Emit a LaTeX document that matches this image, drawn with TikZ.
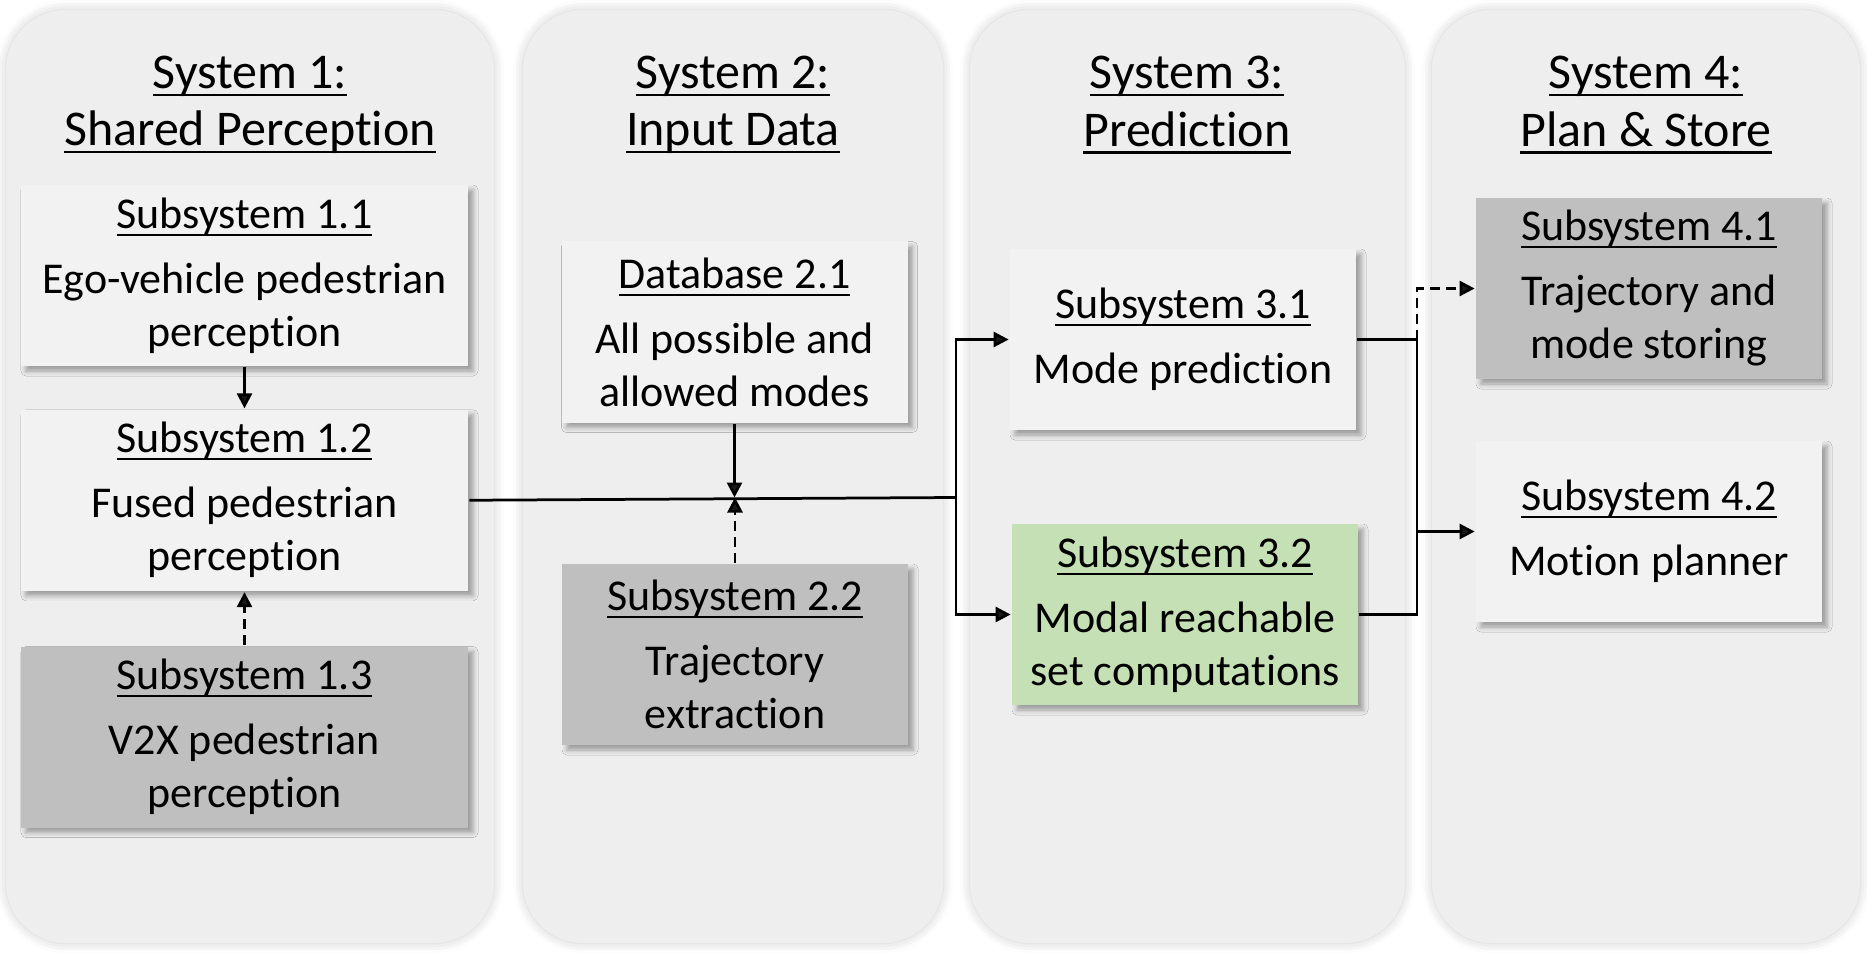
\documentclass[tikz,border=0pt]{standalone}
\usepackage{fontspec}
\setmainfont{Carlito}[Ligatures=NoCommon]
\usetikzlibrary{positioning,arrows.meta,shadows.blur}
\definecolor{panel}{HTML}{EEEEEE}
\definecolor{lbox}{HTML}{F2F2F2}
\definecolor{dbox}{HTML}{BFBFBF}
\definecolor{gbox}{HTML}{C5E0B4}
\newcommand\uln[2][0.8pt]{\setbox0\hbox{#2}\rlap{\rule[-3pt]{\wd0}{#1}}\box0}

\begin{document}
\begin{tikzpicture}[x=0.4pt,y=-0.4pt,font=\fontsize{17.6}{21.2}\selectfont,
  >={Triangle[length=6pt,width=6pt]},line width=1.1pt,
  sys/.style={fill=panel,rounded corners=24pt,blur shadow={shadow xshift=0pt,shadow yshift=0pt,shadow blur radius=4pt,shadow opacity=20}},
  ttl/.style={font=\fontsize{20}{22.9}\selectfont,align=center,inner sep=0pt},
  blk/.style={minimum width=138.4pt,minimum height=72.4pt,align=center,inner sep=0pt,
    blur shadow={shadow xshift=2pt,shadow yshift=-2pt,shadow blur radius=2pt,shadow opacity=35}},
  lt/.style={blk,fill=lbox},
  dk/.style={blk,fill=dbox},
  gr/.style={blk,fill=gbox},
  wide/.style={minimum width=178.8pt},
  dsh/.style={dash pattern=on 4pt off 2.4pt}]
  \useasboundingbox (0,0) rectangle (1867,959);
  % system panels
  \fill[sys] (6,10) rectangle (494,943);
  \fill[sys] (523,10) rectangle (943,943);
  \fill[sys] (970,10) rectangle (1405,943);
  \fill[sys] (1432,10) rectangle (1860,943);
  \node[ttl] (t1) at (250,105) {\uln[1pt]{System 1:}\\\uln[1pt]{Shared Perception}};
  \node[ttl] (t2) at (733,105) {\uln[1pt]{System 2:}\\\uln[1pt]{Input Data}};
  \node[ttl] (t3) at (1187,105) {\uln[1pt]{System 3:}\\\uln[1pt]{Prediction}};
  \node[ttl] (t4) at (1646,105) {\uln[1pt]{System 4:}\\\uln[1pt]{Plan \& Store}};
  % subsystems
  \node[lt,wide] (s11) at (244.5,275.5) {\uln{Subsystem 1.1}\\[4.8pt]Ego-vehicle pedestrian\\perception};
  \node[lt,wide,below=16.4pt of s11] (s12) {\uln{Subsystem 1.2}\\[4.8pt]Fused pedestrian\\perception};
  \node[dk,wide,below=21.2pt of s12] (s13) {\uln{Subsystem 1.3}\\[4.8pt]V2X pedestrian\\perception};
  \node[lt] (db21) at (734.5,332) {\uln{Database 2.1}\\[4.8pt]All possible and\\allowed modes};
  \node[dk] (s22) at (735,654.5) {\uln{Subsystem 2.2}\\[4.8pt]Trajectory\\extraction};
  \node[lt] (s31) at (1183,339.5) {\uln{Subsystem 3.1}\\[4.8pt]Mode prediction};
  \node[gr] (s32) at (1185,614.5) {\uln{Subsystem 3.2}\\[4.8pt]Modal reachable\\set computations};
  \node[dk] (s41) at (1649,288.5) {\uln{Subsystem 4.1}\\[4.8pt]Trajectory and\\mode storing};
  \node[lt] (s42) at (1649,531.5) {\uln{Subsystem 4.2}\\[4.8pt]Motion planner};
  % connections
  \coordinate (j1) at (956,497.5);
  \coordinate (j2) at (1417,339.5);
  \coordinate (j3) at (1417,614.5);
  \draw[->] (s11) -- (s12);
  \draw[->,dsh] (s13) -- (s12);
  \draw (s12.east) -- (j1);
  \draw[->] (db21.south) -- (db21.south |- j1);
  \draw[->,dsh] (s22.north) -- (s22.north |- j1);
  \draw[->] (j1) |- (s31.west);
  \draw[->] (j1) |- (s32.west);
  \draw (s31.east) -- (j2) -- (j3) -- (s32.east);
  \draw[->] (j2 |- s42.west) -- (s42.west);
  \draw[->,dsh] (j2) |- (s41.west);
\end{tikzpicture}
\end{document}
